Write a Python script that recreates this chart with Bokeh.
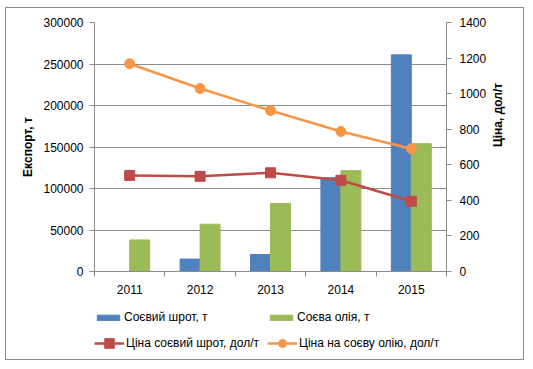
import math
import numpy as np
from bokeh.plotting import figure
from bokeh.layouts import column
from bokeh.models import (Range1d, LinearAxis, FixedTicker, BasicTickFormatter,
                          Legend, LegendItem, ColumnDataSource)
from bokeh.embed import file_html
from bokeh.resources import INLINE

years = ["2011", "2012", "2013", "2014", "2015"]
meal_export = [0, 15000, 20500, 113000, 261000]
oil_export = [38000, 57000, 82000, 121500, 154000]
meal_price = [540, 535, 555, 513, 395]
oil_price = [1168, 1029, 905, 787, 690]
series_names = ["Соєвий шрот, т", "Соєва олія, т",
                "Ціна соєвий шрот, дол/т", "Ціна на соєву олію, дол/т"]

left_ticks = [0, 50000, 100000, 150000, 200000, 250000, 300000]
right_ticks = [0, 200, 400, 600, 800, 1000, 1200, 1400]

FONT = "Liberation Sans"
GRID = "#8c8c8c"
TXT = "#000000"
C_MEAL, C_OIL, C_MP, C_OP = "#4F81BD", "#9BBB59", "#BE4B48", "#F79646"

xc = np.arange(len(years)) + 0.5
src = ColumnDataSource(dict(
    x=xc, xm=xc - 0.142, xo=xc + 0.142,
    meal=meal_export, oil=oil_export,
    mp=meal_price, op=oil_price,
))

W = 517
p = figure(width=W, height=293, output_backend="svg", toolbar_location=None,
           x_range=Range1d(0, len(years)), y_range=Range1d(0, 300000),
           min_border_left=88, min_border_right=77, min_border_top=14, min_border_bottom=30)
p.outline_line_color = None
p.extra_y_ranges = {"price": Range1d(0, 1400)}

# bars
p.vbar(x="xm", top="meal", width=0.284, source=src, color=C_MEAL)
p.vbar(x="xo", top="oil", width=0.284, source=src, color=C_OIL)

# lines
p.line(x="x", y="mp", source=src, y_range_name="price", color=C_MP, line_width=2.5)
p.scatter(x="x", y="mp", source=src, y_range_name="price", marker="square", size=10, color=C_MP)
p.line(x="x", y="op", source=src, y_range_name="price", color=C_OP, line_width=2.5)
p.scatter(x="x", y="op", source=src, y_range_name="price", marker="circle", size=10, color=C_OP)

# grid
p.xgrid.visible = False
p.ygrid.ticker = FixedTicker(ticks=left_ticks)
p.ygrid.grid_line_color = GRID
p.ygrid.grid_line_width = 1

# x axis
xa = p.xaxis[0]
xa.ticker = FixedTicker(ticks=list(xc), minor_ticks=list(range(len(years) + 1)))
xa.major_label_overrides = {float(v): y for v, y in zip(xc, years)}
xa.major_tick_out = 0
xa.major_tick_in = 0
xa.minor_tick_out = 5
xa.minor_tick_in = 0
xa.minor_tick_line_color = GRID
xa.axis_line_color = GRID
xa.major_label_standoff = 8
xa.major_label_text_font = FONT
xa.major_label_text_font_size = "12px"
xa.major_label_text_color = TXT

# left axis
ya = p.yaxis[0]
ya.ticker = FixedTicker(ticks=left_ticks)
ya.formatter = BasicTickFormatter(use_scientific=False)
ya.minor_tick_line_color = None
ya.major_tick_out = 5
ya.major_tick_in = 0
ya.major_tick_line_color = GRID
ya.axis_line_color = GRID
ya.major_label_standoff = 6
ya.major_label_text_font = FONT
ya.major_label_text_font_size = "12px"
ya.major_label_text_color = TXT
ya.axis_label = "Експорт, т"
ya.axis_label_text_font = FONT
ya.axis_label_text_font_size = "12px"
ya.axis_label_text_font_style = "bold"
ya.axis_label_text_color = TXT
ya.axis_label_standoff = 5

# right axis (ticks and tick labels)
ra = LinearAxis(y_range_name="price", ticker=FixedTicker(ticks=right_ticks))
ra.minor_tick_line_color = None
ra.major_tick_out = 5
ra.major_tick_in = 0
ra.major_tick_line_color = GRID
ra.axis_line_color = GRID
ra.major_label_standoff = 8
ra.major_label_text_font = FONT
ra.major_label_text_font_size = "12px"
ra.major_label_text_color = TXT
p.add_layout(ra, "right")

# right axis title, read bottom-to-top
rt = LinearAxis(y_range_name="price", ticker=FixedTicker(ticks=[]), bounds=(0, 1056))
rt.axis_line_color = None
rt.major_tick_line_color = None
rt.minor_tick_line_color = None
rt.major_tick_out = 0
rt.major_label_standoff = 0
rt.axis_label = "Ціна, дол/т"
rt.axis_label_text_font = FONT
rt.axis_label_text_font_size = "12px"
rt.axis_label_text_font_style = "bold"
rt.axis_label_text_color = TXT
rt.axis_label_standoff = 8
rt.axis_label_orientation = math.pi / 2
p.add_layout(rt, "right")

# legend panel (its frame is aligned with the chart frame by the column layout)
LH = 58
q = figure(width=W, height=LH, output_backend="svg", toolbar_location=None,
           x_range=Range1d(0, 1), y_range=Range1d(0, 1),
           min_border_left=0, min_border_right=0, min_border_top=0, min_border_bottom=0)
q.axis.visible = False
q.grid.visible = False
q.outline_line_color = None
lb = q.vbar(x="xm", top="meal", width=0.284, source=src, color=C_MEAL, visible=False)
lo = q.vbar(x="xo", top="oil", width=0.284, source=src, color=C_OIL, visible=False)
ll1 = q.line(x="x", y="mp", source=src, color=C_MP, line_width=2.5, visible=False)
ls1 = q.scatter(x="x", y="mp", source=src, marker="square", color=C_MP, visible=False)
ll2 = q.line(x="x", y="op", source=src, color=C_OP, line_width=2.5, visible=False)
ls2 = q.scatter(x="x", y="op", source=src, marker="circle", color=C_OP, visible=False)


def add_leg(label, renderers, loc, gw, gh, lh):
    lg = Legend(items=[LegendItem(label=label, renderers=renderers)], location=loc,
                glyph_width=gw, glyph_height=gh, padding=0, margin=0, spacing=0,
                label_standoff=2, label_height=lh, label_text_font=FONT,
                label_text_font_size="12px", label_text_color=TXT,
                border_line_color=None, background_fill_alpha=0)
    q.add_layout(lg, "center")


add_leg(series_names[0], [lb], (0, 35), 28, 7, 14)
add_leg(series_names[1], [lo], (173, 35), 28, 7, 14)
add_leg(series_names[2], [ll1, ls1], (0, 4), 30, 24, 24)
add_leg(series_names[3], [ll2, ls2], (173, 6), 30, 20, 20)

layout = column(p, q, spacing=0)
layout.styles = {"border": "1px solid #8c8c8c", "margin-left": "5px", "margin-top": "7px"}

open("out.html", "w").write(file_html(layout, INLINE))
